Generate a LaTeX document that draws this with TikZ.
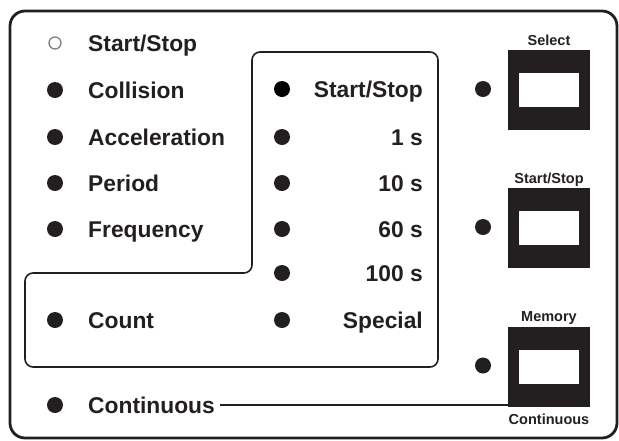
\documentclass[tikz,border=0pt]{standalone}
\usepackage{fontspec}
\setmainfont{Liberation Sans}[BoldFont=Liberation Sans Bold]
\usetikzlibrary{positioning}
\definecolor{ink}{HTML}{231F20}
\tikzset{
  led/.style={circle,fill=ink,inner sep=0pt,minimum size=16pt},
  ledoff/.style={circle,draw=black!50,line width=1.3pt,inner sep=0pt,minimum size=12pt},
  lbl/.style={font=\fontsize{22.8}{24}\selectfont\bfseries,text=ink,inner sep=0pt},
  keycap/.style={font=\fontsize{14.5}{16}\selectfont\bfseries,text=ink,inner sep=0pt},
  key/.style={fill=ink,minimum width=82pt,minimum height=80pt,inner sep=0pt},
  keywin/.style={fill=white,minimum width=60pt,minimum height=34pt,inner sep=0pt}
}

\begin{document}
\begin{tikzpicture}[x=1pt,y=-1pt]
  \useasboundingbox (0,0) rectangle (619,440);
  % front panel and the L-shaped group
  \draw[ink,line width=2.8pt,rounded corners=15pt] (10,11) rectangle (617,438);
  \draw[ink,line width=1.6pt,rounded corners=8pt] (252,52) -- (438,52) -- (438,367) -- (25,367) -- (25,273) -- (252,273) -- cycle;

  % left column
  \node[ledoff] (led-ss) at (55,43) {};
  \node[lbl,anchor=base west] (txt-ss) at (88,51) {Start/Stop};
  \foreach \name/\txt/\y in {coll/Collision/90, acc/Acceleration/137, per/Period/183, freq/Frequency/229, cnt/Count/320, cont/Continuous/405} {
    \node[led] (led-\name) at (55,\y) {};
    \node[lbl,anchor=base west] (txt-\name) at (88,{\y+8}) {\txt};
  }

  % time base column
  \node[led,fill=black] (tled-ss) at (282,89) {};
  \node[lbl,anchor=base east] (ttxt-ss) at (423,97) {Start/Stop};
  \foreach \name/\txt/\y in {one/1 s/137, ten/10 s/183, sixty/60 s/229, hundred/100 s/273, spec/Special/320} {
    \node[led] (tled-\name) at (282,\y) {};
    \node[lbl,anchor=base east] (ttxt-\name) at (423,{\y+8}) {\txt};
  }

  % keys
  \foreach \name/\y in {sel/90, ss/228, mem/366.5} {
    \node[led] (kled-\name) at (483,{\y-1}) {};
    \node[key] (k-\name) at (549,\y) {};
    \node[keywin] (kwin-\name) at (k-\name) {};
  }
  \node[keycap,above=4pt of k-sel,anchor=base] (cap-sel) {Select};
  \node[keycap,above=4pt of k-ss,anchor=base] (cap-ss) {Start/Stop};
  \node[keycap,above=5pt of k-mem,anchor=base] (cap-mem) {Memory};
  \node[keycap,below=18pt of k-mem,anchor=base] (cap-cont) {Continuous};

  \draw[ink,line width=1.6pt,shorten <=5pt] (txt-cont.east) -- (txt-cont.east -| k-mem.west);
\end{tikzpicture}
\end{document}
